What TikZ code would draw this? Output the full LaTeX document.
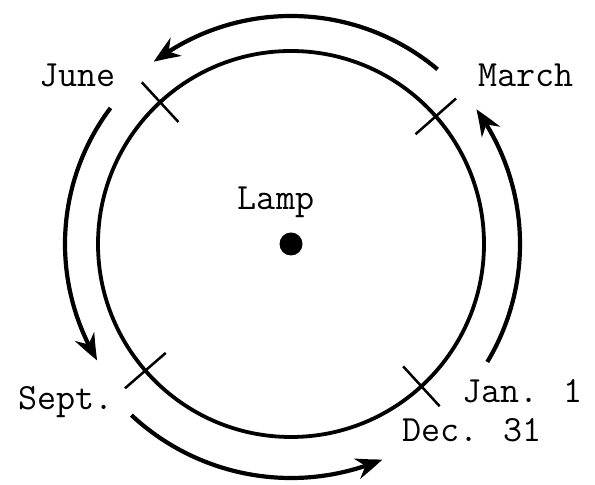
\documentclass[tikz,border=0pt]{standalone}
\usetikzlibrary{arrows.meta, bending}

\tikzstyle{orbit} = [
    line width=3.8bp
]
\tikzstyle{datetick} = [
    line width=2.5bp
]
\tikzstyle{season} = [
    font=\fontsize{37bp}{40bp}\selectfont\ttfamily,
    inner sep=0,
    anchor=base west
]
\tikzstyle{lampdot} = [
    circle,
    fill=black,
    minimum size=23bp,
    inner sep=0
]
\tikzstyle{arrow} = [line width=4.2bp, -{Stealth[length=27bp, width=21bp, bend]}]

\begin{document}
\begin{tikzpicture}[x=1bp, y=1bp]

\useasboundingbox (0,0) rectangle (595,485);

\node (lamp) [lampdot] at (291,241) {};
\node (lamplabel) [season, anchor=base] at (276,275) {Lamp};

\draw [orbit] (lamp.center) circle [radius=193];

\node (june) [season] at (39,398) {June};
\node (march) [season] at (478,398) {March};
\node (sept) [season] at (18,75) {Sept.};
\node (jan) [season] at (462,82) {Jan. 1};
\node (dec) [season] at (402,43) {Dec. 31};

\begin{scope}[shift={(lamp.center)}]
\foreach \a in {41.4, 132.7, 221, -47.5}
    \draw [datetick] (\a:166) -- (\a:220);
\coordinate (marchout) at (50:228);
\coordinate (juneout) at (143:226);
\coordinate (septout) at (227:234);
\coordinate (janout) at (-31:229);
\end{scope}

\draw [arrow] (marchout) arc [start angle=50, end angle=127, radius=228];
\draw [arrow] (juneout) arc [start angle=143, end angle=211, radius=226];
\draw [arrow] (septout) arc [start angle=227, end angle=293, radius=234];
\draw [arrow] (janout) arc [start angle=-31, end angle=36, radius=229];

\end{tikzpicture}
\end{document}
